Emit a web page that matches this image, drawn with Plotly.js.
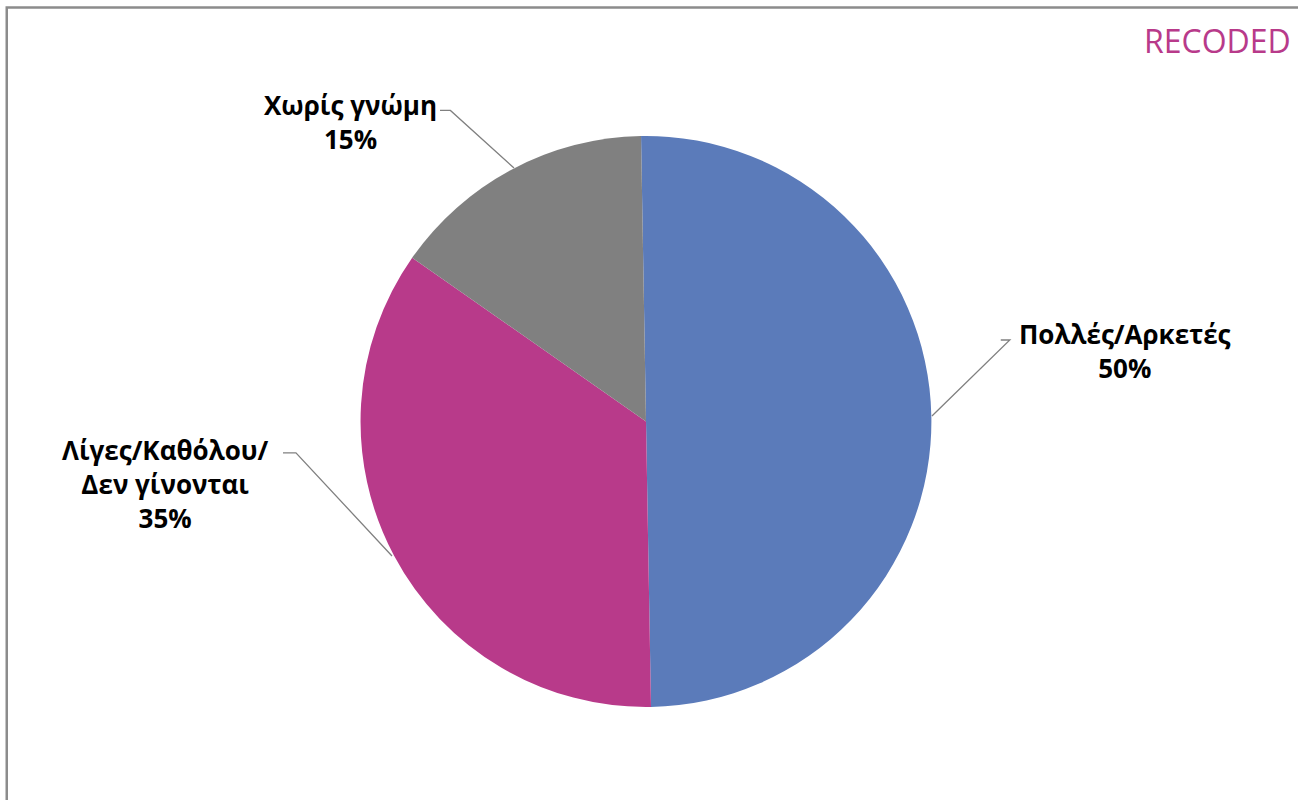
<!DOCTYPE html>
<html>
<head>
<meta charset="utf-8">
<script src="https://cdn.plot.ly/plotly-3.0.1.min.js"></script>
<style>
html,body{margin:0;padding:0;background:#fff;}
#chart{width:1298px;height:800px;}
</style>
</head>
<body>
<div id="chart"></div>
<script>
const labels = ["Πολλές/Αρκετές", "Λίγες/Καθόλου/<br>Δεν γίνονται", "Χωρίς γνώμη"];
const values = [50, 35, 15];
const colors = ["#5B7BBA", "#B83A8A", "#808080"];
const chartTitle = "RECODED";

// label placement (paper coords) and leader lines
const labelPos = [
  {x: 0.867, y: 0.561, lx: [0.771, 0.778, 0.718], ly: [0.575, 0.575, 0.48]},
  {x: 0.127, y: 0.395, lx: [0.218, 0.228, 0.302], ly: [0.434, 0.434, 0.305]},
  {x: 0.27, y: 0.848, lx: [0.339, 0.347, 0.396], ly: [0.862, 0.862, 0.79]}
];

const annotations = labels.map((l, i) => ({
  xref: 'paper', yref: 'paper', x: labelPos[i].x, y: labelPos[i].y,
  text: '<b>' + l + '<br>' + values[i] + '%</b>',
  showarrow: false, align: 'center', xanchor: 'center', yanchor: 'middle',
  font: {family: 'Open Sans, sans-serif', size: 26, color: '#000'}
}));
annotations.push({
  xref: 'paper', yref: 'paper', x: 0.996, y: 0.949, xanchor: 'right', yanchor: 'middle',
  text: chartTitle, showarrow: false,
  font: {family: 'Open Sans, sans-serif', size: 32, color: '#B83A8A'}
});

const shapes = labelPos.map(p => ({
  type: 'path', xref: 'paper', yref: 'paper',
  path: 'M' + p.lx[0] + ',' + p.ly[0] + ' L' + p.lx[1] + ',' + p.ly[1] + ' L' + p.lx[2] + ',' + p.ly[2],
  line: {color: '#808080', width: 1.3}
}));
shapes.push({
  type: 'rect', xref: 'paper', yref: 'paper', x0: 0.0052, y0: -0.02, x1: 1.02, y1: 0.9905,
  line: {color: '#8C8C8C', width: 2.5}, fillcolor: 'rgba(0,0,0,0)'
});

Plotly.newPlot('chart', [{
  type: 'pie', values: values, labels: labels, sort: false,
  direction: 'clockwise', rotation: -1,
  marker: {colors: colors, line: {width: 0}},
  textinfo: 'none', hoverinfo: 'label+percent',
  domain: {x: [0.2773, 0.7181], y: [0.1163, 0.8300]}
}], {
  width: 1298, height: 800,
  margin: {l: 0, r: 0, t: 0, b: 0},
  showlegend: false,
  paper_bgcolor: '#fff',
  annotations: annotations,
  shapes: shapes
}, {displayModeBar: false});
</script>
</body>
</html>
